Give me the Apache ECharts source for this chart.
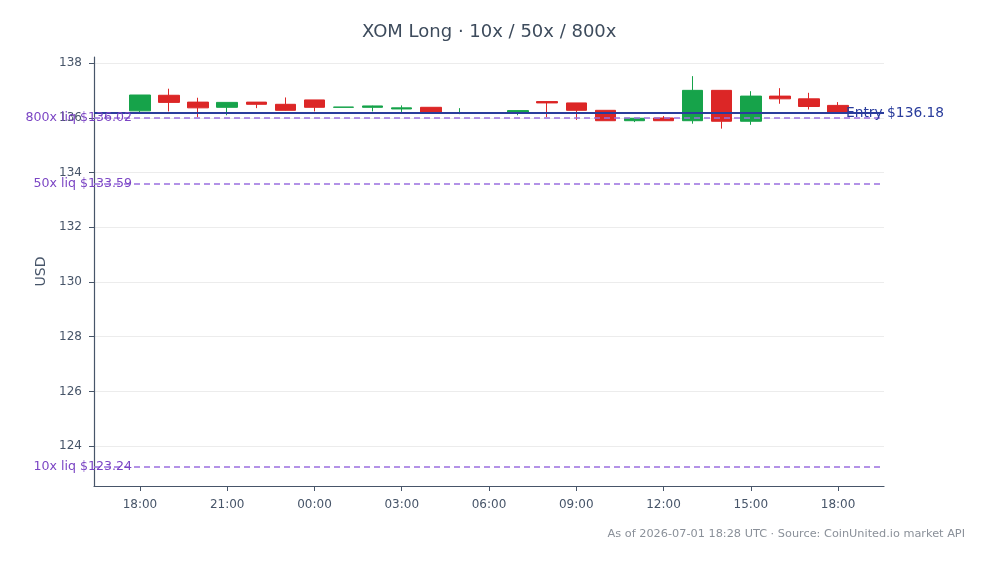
<!DOCTYPE html>
<html>
<head>
<meta charset="utf-8">
<title>XOM Long</title>
<script src="https://cdn.jsdelivr.net/npm/echarts@6/dist/echarts.min.js"></script>
<style>
  html, body { margin: 0; padding: 0; background: #fff; }
  #chart { width: 989px; height: 564px; }
</style>
</head>
<body>
<div id="chart"></div>
<script>
  // hourly candles, 18:00 -> 18:00 next day
  const times = ['18:00', '19:00', '20:00', '21:00', '22:00', '23:00', '00:00', '01:00', '02:00',
    '03:00', '04:00', '05:00', '06:00', '07:00', '08:00', '09:00', '10:00', '11:00', '12:00',
    '13:00', '14:00', '15:00', '16:00', '17:00', '18:00']
  const open = [136.26, 136.83, 136.58, 136.39, 136.58, 136.50, 136.66, 136.39, 136.39, 136.33, 136.39, 136.17, 136.18,
    136.20, 136.60, 136.55, 136.28, 135.90, 136.00, 135.90, 137.01, 135.88, 136.80, 136.70, 136.46]
  const close = [136.84, 136.57, 136.37, 136.57, 136.50, 136.28, 136.39, 136.40, 136.44, 136.37, 136.20, 136.18, 136.19,
    136.27, 136.55, 136.28, 135.90, 135.99, 135.90, 137.01, 135.88, 136.80, 136.70, 136.42, 136.22]
  const low = [136.20, 136.24, 136.03, 136.10, 136.36, 136.27, 136.24, 136.39, 136.24, 136.22, 136.19, 136.14, 136.16,
    136.10, 136.03, 135.93, 135.90, 135.85, 135.90, 135.79, 135.61, 135.75, 136.52, 136.31, 136.20]
  const high = [136.84, 137.07, 136.74, 136.57, 136.58, 136.75, 136.66, 136.40, 136.45, 136.46, 136.39, 136.36, 136.20,
    136.27, 136.61, 136.55, 136.28, 135.99, 136.07, 137.53, 137.01, 136.98, 137.09, 136.92, 136.58]

  const entryPrice = 136.18
  const liqLevels = [
    { label: '800x liq', price: 136.02 },
    { label: '50x liq', price: 133.59 },
    { label: '10x liq', price: 123.24 }
  ]

  const yTicks = [124, 126, 128, 130, 132, 134, 136, 138]
  const xTickIndex = [0, 3, 6, 9, 12, 15, 18, 21, 24]
  const xTickLabels = ['18:00', '21:00', '00:00', '03:00', '06:00', '09:00', '12:00', '15:00', '18:00']

  const FONT = 'DejaVu Sans'
  const SLATE = '#475569'
  const GREEN = '#16a34a'
  const RED = '#dc2626'

  const candles = times.map((t, i) => [i, open[i], close[i], low[i], high[i]])

  const markData = [
    {
      yAxis: entryPrice,
      lineStyle: { color: '#2a3d9c', width: 2, type: 'solid' },
      label: {
        show: true,
        position: 'end',
        distance: -38,
        formatter: 'Entry $' + entryPrice.toFixed(2),
        color: '#2a3d9c',
        fontSize: 13.8,
        fontFamily: FONT
      }
    }
  ].concat(liqLevels.map((l) => ({
    yAxis: l.price,
    lineStyle: { color: '#9b6fe0', width: 1.5, type: [6, 4] },
    label: {
      show: true,
      position: 'start',
      distance: -38,
      formatter: l.label + ' $' + l.price.toFixed(2),
      color: '#7b45c4',
      fontSize: 12.6,
      fontFamily: FONT
    }
  })))

  const chart = echarts.init(document.getElementById('chart'), null, { renderer: 'canvas' })

  const option = {
    animation: false,
    textStyle: { fontFamily: FONT },
    title: {
      text: 'XOM Long · 10x / 50x / 800x',
      left: 357,
      top: 18,
      textStyle: { fontFamily: FONT, fontSize: 18, fontWeight: 'normal', color: '#3d4b5c' }
    },
    graphic: [
      {
        type: 'text',
        right: 24,
        top: 529,
        style: {
          text: 'As of 2026-07-01 18:28 UTC · Source: CoinUnited.io market API',
          fill: '#8a9099',
          font: '11.3px "DejaVu Sans"'
        }
      }
    ],
    grid: { left: 94, right: 105, top: 57, bottom: 78 },
    xAxis: {
      type: 'value',
      min: -1.58,
      max: 25.58,
      axisLine: { onZero: false, lineStyle: { color: SLATE, width: 1.2 } },
      axisTick: { show: true, length: 5, customValues: xTickIndex, lineStyle: { color: SLATE } },
      axisLabel: {
        customValues: xTickIndex,
        formatter: (v) => xTickLabels[xTickIndex.indexOf(Math.round(v))] || '',
        color: SLATE,
        fontSize: 12,
        margin: 13
      },
      splitLine: { show: false }
    },
    yAxis: {
      type: 'value',
      min: 122.54,
      max: 138.23,
      name: 'USD',
      nameLocation: 'middle',
      nameRotate: 90,
      nameGap: 44,
      nameTextStyle: { color: SLATE, fontSize: 14 },
      axisLine: { show: true, onZero: false, lineStyle: { color: SLATE, width: 1.2 } },
      axisTick: { show: true, length: 5, customValues: yTicks, lineStyle: { color: SLATE } },
      axisLabel: { customValues: yTicks, color: SLATE, fontSize: 12, margin: 12 },
      splitLine: { show: true, lineStyle: { color: '#ececec', width: 1 } }
    },
    series: [
      {
        type: 'candlestick',
        data: candles,
        encode: { x: 0, y: [1, 2, 3, 4] },
        barWidth: 21,
        itemStyle: {
          color: GREEN,
          color0: RED,
          borderColor: GREEN,
          borderColor0: RED,
          borderWidth: 1
        },
        markLine: {
          silent: true,
          symbol: 'none',
          data: markData
        }
      }
    ]
  }

  chart.setOption(option)
</script>
</body>
</html>
